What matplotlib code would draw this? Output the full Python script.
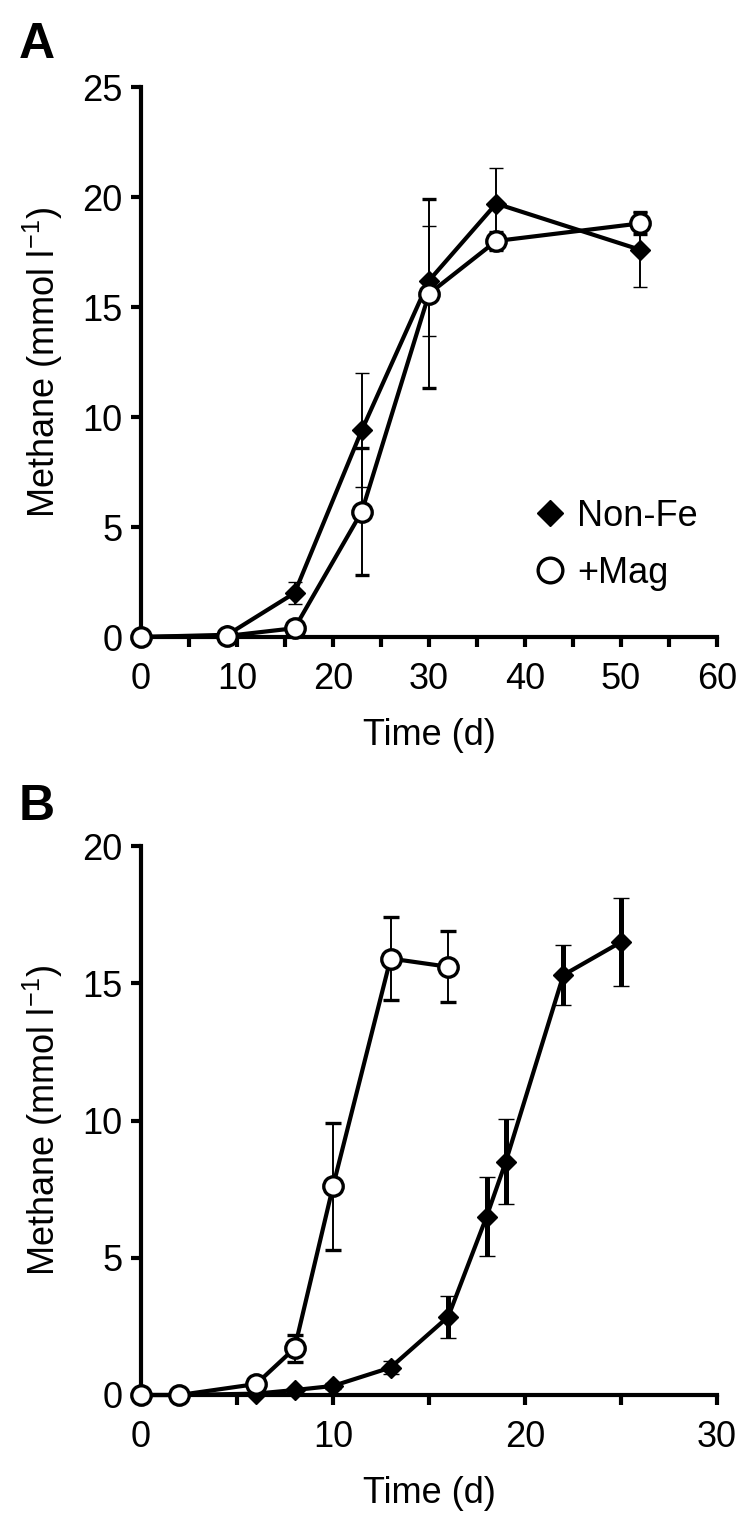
import matplotlib
matplotlib.use("Agg")
import matplotlib.pyplot as plt
from matplotlib.lines import Line2D

plt.rcParams['font.family'] = ['Liberation Sans', 'DejaVu Sans']
plt.rcParams['mathtext.fontset'] = 'custom'
plt.rcParams['mathtext.rm'] = 'Liberation Sans'
plt.rcParams['mathtext.it'] = 'Liberation Sans'
plt.rcParams['mathtext.default'] = 'regular'

# ---------------- data ----------------
# Panel A
a_days = [0, 9, 16, 23, 30, 37, 52]
a_nonfe = [0, 0.1, 2.0, 9.4, 16.2, 19.7, 17.6]
a_nonfe_err = [0, 0, 0.5, 2.6, 2.5, 1.6, 1.7]
a_mag = [0, 0.05, 0.4, 5.7, 15.6, 18.0, 18.8]
a_mag_err = [0, 0, 0, 2.9, 4.3, 0.4, 0.5]

# Panel B
b_days_nonfe = [0, 2, 6, 8, 10, 13, 16, 18, 19, 22, 25]
b_nonfe = [0, 0, 0.05, 0.18, 0.33, 1.0, 2.85, 6.5, 8.5, 15.3, 16.5]
b_nonfe_err = [0, 0, 0, 0.05, 0.1, 0.25, 0.77, 1.45, 1.55, 1.1, 1.6]
b_days_mag = [0, 2, 6, 8, 10, 13, 16]
b_mag = [0, 0, 0.4, 1.7, 7.6, 15.9, 15.6]
b_mag_err = [0, 0, 0.1, 0.5, 2.3, 1.5, 1.3]

labels = ["Non-Fe", "+Mag"]
a_xticks = [0, 10, 20, 30, 40, 50, 60]
a_yticks = [0, 5, 10, 15, 20, 25]
b_xticks = [0, 10, 20, 30]
b_yticks = [0, 5, 10, 15, 20]

FS = 26
W, H = 753, 1535
fig = plt.figure(figsize=(W / 100, H / 100), dpi=100)

left = 141 / W
width = (717 - 141) / W
axA = fig.add_axes([left, 1 - 637 / H, width, (637 - 87) / H])
axB = fig.add_axes([left, 1 - 1395 / H, width, (1395 - 846) / H])

line_kw = dict(color='black', lw=3.0, clip_on=False)


def style(ax, xlim, ylim, xticks, yticks, minor_step):
    ax.set_xlim(*xlim)
    ax.set_ylim(*ylim)
    for s in ['top', 'right']:
        ax.spines[s].set_visible(False)
    for s in ['left', 'bottom']:
        ax.spines[s].set_linewidth(3.0)
    ax.set_xticks(xticks)
    ax.set_yticks(yticks)
    ax.set_xticks([t + minor_step for t in xticks[:-1]], minor=True)
    ax.tick_params(which='both', direction='out', length=7, width=3.0,
                   labelsize=FS)
    ax.tick_params(axis='x', which='both', pad=11)
    ax.tick_params(axis='y', which='both', pad=6.5)
    ax.set_xlabel("Time (d)", fontsize=FS, labelpad=15)
    ax.set_ylabel("Methane (mmol l$^{-1}$)", fontsize=FS, labelpad=12)


# Panel A
axA.errorbar(a_days, a_nonfe, yerr=a_nonfe_err, fmt='-', marker='D', ms=10.5,
             mfc='black', mec='black', mew=1, ecolor='black', elinewidth=1.4,
             capsize=5, capthick=1.4, zorder=3, **line_kw)
axA.errorbar(a_days, a_mag, yerr=a_mag_err, fmt='-', marker='o', ms=14,
             mfc='white', mec='black', mew=2.4, ecolor='black', elinewidth=1.4,
             capsize=5, capthick=1.4, zorder=4, **line_kw)
style(axA, (0, 60), (0, 25), a_xticks, a_yticks, 5)

handles = [Line2D([], [], ls='none', marker='D', ms=10.5, mfc='black', mec='black', mew=1),
           Line2D([], [], ls='none', marker='o', ms=14, mfc='white', mec='black', mew=2.4)]
axA.legend(handles, labels, loc='upper left', bbox_to_anchor=(0.685, 0.251),
           frameon=False, fontsize=FS, markerscale=1.27, handlelength=0.8,
           handletextpad=0.35, labelspacing=0.61, borderpad=0, borderaxespad=0)

# Panel B
axB.errorbar(b_days_nonfe, b_nonfe, yerr=b_nonfe_err, fmt='-', marker='D', ms=10.5,
             mfc='black', mec='black', mew=1, ecolor='black', elinewidth=3.6,
             capsize=5.6, capthick=3.6, zorder=3, **line_kw)
axB.errorbar(b_days_mag, b_mag, yerr=b_mag_err, fmt='-', marker='o', ms=14,
             mfc='white', mec='black', mew=2.4, ecolor='black', elinewidth=1.4,
             capsize=5.6, capthick=1.4, zorder=4, **line_kw)
style(axB, (0, 30), (0, 20), b_xticks, b_yticks, 5)

fig.text(19 / W, 1 - 58 / H, "A", fontsize=36, fontweight='bold', va='baseline', ha='left')
fig.text(19 / W, 1 - 820 / H, "B", fontsize=36, fontweight='bold', va='baseline', ha='left')

fig.savefig("out.png", dpi=100)
